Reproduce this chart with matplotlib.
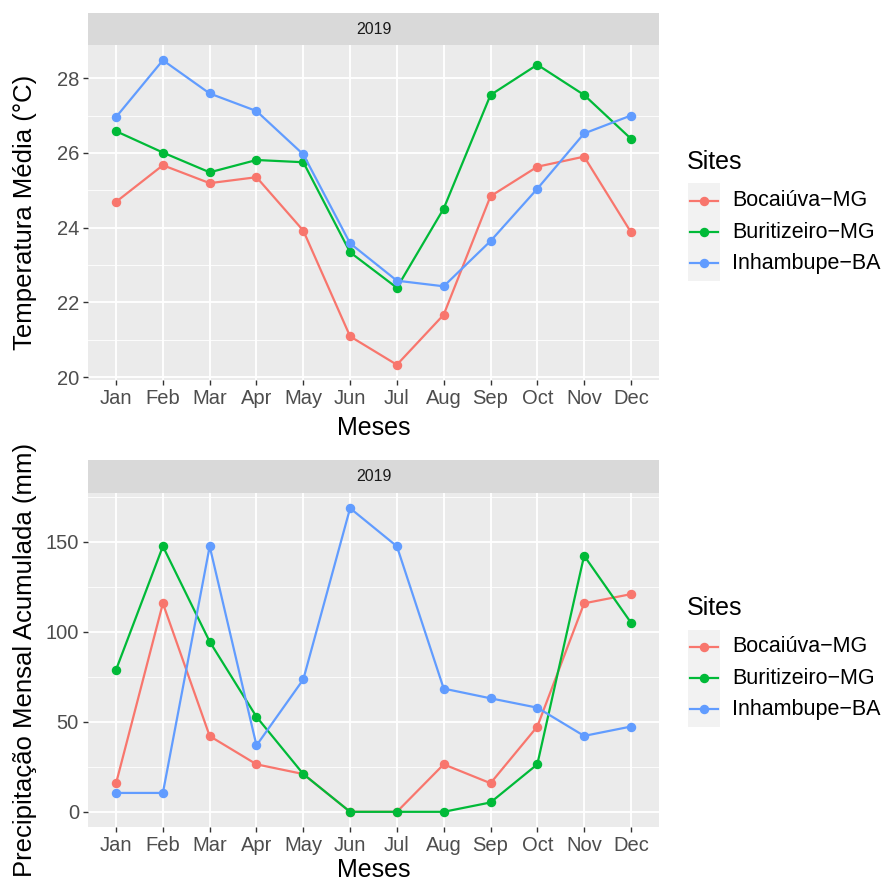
import numpy as np
import matplotlib
matplotlib.use('Agg')
from matplotlib import pyplot as plt
from matplotlib.lines import Line2D
from matplotlib.patches import Rectangle

plt.rcParams['font.family'] = ['Liberation Sans', 'DejaVu Sans']

# Months on the x axis
months = ['Jan', 'Feb', 'Mar', 'Apr', 'May', 'Jun',
          'Jul', 'Aug', 'Sep', 'Oct', 'Nov', 'Dec']

# Site names and ggplot hue colours
sites = ['Bocaiúva−MG', 'Buritizeiro−MG', 'Inhambupe−BA']
colors = ['#F8766D', '#00BA38', '#619CFF']

# Mean monthly temperature (°C), 2019
temp_bocaiuva = [24.69, 25.67, 25.19, 25.35, 23.92, 21.09,
                 20.33, 21.67, 24.84, 25.63, 25.90, 23.88]
temp_buritizeiro = [26.58, 26.01, 25.48, 25.81, 25.75, 23.34,
                    22.39, 24.51, 27.55, 28.36, 27.55, 26.38]
temp_inhambupe = [26.96, 28.48, 27.59, 27.12, 25.96, 23.58,
                  22.58, 22.43, 23.64, 25.04, 26.52, 27.00]

# Accumulated monthly rainfall (mm), 2019
prec_bocaiuva = [15.9, 115.9, 42.1, 26.4, 21.0, 0.0,
                 0.0, 26.4, 15.9, 47.4, 115.9, 121.0]
prec_buritizeiro = [79.0, 147.6, 94.6, 52.8, 21.0, 0.0,
                    0.0, 0.0, 5.2, 26.4, 142.4, 105.2]
prec_inhambupe = [10.5, 10.5, 147.6, 36.9, 73.6, 168.8,
                  147.6, 68.5, 63.1, 57.9, 42.2, 47.4]

temp_series = [temp_bocaiuva, temp_buritizeiro, temp_inhambupe]
prec_series = [prec_bocaiuva, prec_buritizeiro, prec_inhambupe]

W, H = 884, 881
fig = plt.figure(figsize=(W / 100, H / 100), dpi=100)


def fx(px):
    return px / W


def fy(py):
    return 1 - py / H


def panel(top_px, bottom_px, strip_top_px, series, major, minor, ylabel, xlab_y):
    left, right = 88, 659
    ax = fig.add_axes([fx(left), fy(bottom_px), fx(right - left), (bottom_px - top_px) / H])
    ax.set_facecolor('#EBEBEB')
    for s in ax.spines.values():
        s.set_visible(False)
    x = np.arange(len(months))
    for vals, c in zip(series, colors):
        ax.plot(x, vals, color=c, lw=1.6, marker='o', ms=5.8, zorder=3)
    allv = np.concatenate([np.asarray(v) for v in series])
    lo, hi = allv.min(), allv.max()
    pad = 0.05 * (hi - lo)
    ax.set_ylim(lo - pad, hi + pad)
    ax.set_xlim(-0.6, len(months) - 0.4)
    ax.set_xticks(x)
    ax.set_xticklabels(months)
    ax.set_yticks(major)
    ax.set_yticks(minor, minor=True)
    ax.grid(True, which='major', color='white', lw=1.3)
    ax.grid(True, which='minor', axis='y', color='white', lw=0.6)
    ax.set_axisbelow(True)
    ax.tick_params(which='major', length=3.5, width=1, color='#333333',
                   labelsize=14.5, labelcolor='#4D4D4D', pad=3)
    ax.tick_params(which='minor', length=0)
    ax.set_xlabel('Meses', fontsize=18)
    ax.xaxis.set_label_coords(0.5, xlab_y)
    ax.xaxis.label.set_va('top')
    ax.set_ylabel(ylabel, fontsize=18.5)
    ax.yaxis.set_label_coords(-0.089, 0.5)

    # facet strip
    sax = fig.add_axes([fx(left), fy(top_px), fx(right - left), (top_px - strip_top_px) / H])
    sax.set_facecolor('#D9D9D9')
    sax.set_xticks([])
    sax.set_yticks([])
    for s in sax.spines.values():
        s.set_visible(False)
    sax.text(0.5, 0.5, '2019', ha='center', va='center', fontsize=11.5, color='#1A1A1A',
             transform=sax.transAxes)
    return ax


def legend(title_y, first_y, step):
    fig.text(fx(687), fy(title_y), 'Sites', fontsize=18, va='center', ha='left')
    top = first_y - step / 2 - 2
    fig.patches.append(Rectangle((fx(688), fy(top + 3 * step + 4)), fx(32), (3 * step + 4) / H,
                                 transform=fig.transFigure, facecolor='#F2F2F2',
                                 edgecolor='none', figure=fig))
    for i, (name, c) in enumerate(zip(sites, colors)):
        yy = fy(first_y + i * step)
        fig.add_artist(Line2D([fx(690), fx(718)], [yy, yy], color=c, lw=1.6,
                              transform=fig.transFigure))
        fig.add_artist(Line2D([fx(704)], [yy], color=c, marker='o', ms=5.8, lw=0,
                              transform=fig.transFigure))
        fig.text(fx(732), yy, name, fontsize=15.5, va='center', ha='left')


ax1 = panel(45, 380, 13, temp_series, [20, 22, 24, 26, 28], [21, 23, 25, 27],
            'Temperatura Média (°C)', -0.107)
ax2 = panel(493, 827, 460, prec_series, [0, 50, 100, 150], [25, 75, 125, 175],
            'Precipitação Mensal Acumulada (mm)', -0.094)

legend(162, 201, 31)
legend(608, 647, 31)

fig.savefig('out.png', dpi=100)
